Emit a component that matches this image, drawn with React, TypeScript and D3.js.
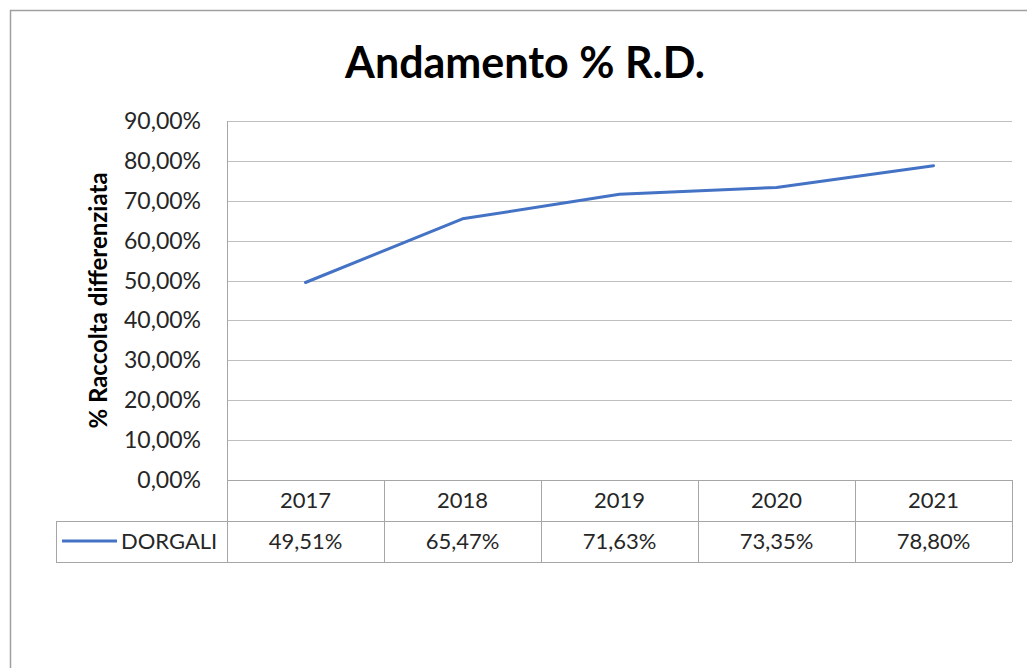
import React from 'react';
import * as d3 from 'd3';

const years = ['2017', '2018', '2019', '2020', '2021'];
const dorgali = [49.51, 65.47, 71.63, 73.35, 78.8];
const yTicks = [0, 10, 20, 30, 40, 50, 60, 70, 80, 90];
const seriesName = 'DORGALI';

const W = 1027;
const H = 668;
const FONT = 'Lato, "Open Sans", sans-serif';

const fmtPct = (v: number) => v.toFixed(2).replace('.', ',') + '%';

export default function App() {
  const left = 227, right = 1012, top = 121, bottom = 480;
  const rowH = 41;
  const legendLeft = 56;

  const x = d3.scaleBand<string>().domain(years).range([left, right]);
  const y = d3.scaleLinear().domain([0, 90]).range([bottom, top]);

  const line = d3.line<number>()
    .x((d, i) => (x(years[i]) as number) + x.bandwidth() / 2)
    .y(d => y(d));

  const grid = '#bfbfbf';
  const border = '#a6a6a6';
  const txt = '#262626';

  return (
    <svg width={W} height={H} style={{position: 'absolute', left: 0, top: 0, background: '#fff'}}>
      <rect x={10.5} y={10.5} width={W + 20} height={H + 20} fill="#fff" stroke="#a0a0a0" strokeWidth={1.5} />

      <text x={525} y={78} textAnchor="middle" fontFamily={FONT} fontWeight="bold" fontSize={43} fill="#000">
        Andamento % R.D.
      </text>

      {/* gridlines */}
      {yTicks.map(t => (
        <line key={t} x1={left} x2={right} y1={Math.round(y(t)) + 0.5} y2={Math.round(y(t)) + 0.5} stroke={grid} strokeWidth={1} />
      ))}
      <line x1={left + 0.5} x2={left + 0.5} y1={top} y2={bottom + rowH * 2} stroke={border} />

      {/* y ticks */}
      {yTicks.map(t => (
        <text key={t} x={201} y={y(t) + 8} textAnchor="end" fontFamily={FONT} fontSize={23} fill={txt}>
          {fmtPct(t)}
        </text>
      ))}

      <text transform={`translate(107,${(top + bottom) / 2}) rotate(-90)`} textAnchor="middle"
        fontFamily={FONT} fontWeight="bold" fontSize={24} fill="#000">
        % Raccolta differenziata
      </text>

      {/* data table */}
      <line x1={left} x2={right} y1={bottom + 0.5} y2={bottom + 0.5} stroke={border} />
      <line x1={legendLeft} x2={right} y1={bottom + rowH + 0.5} y2={bottom + rowH + 0.5} stroke={border} />
      <line x1={legendLeft} x2={right} y1={bottom + rowH * 2 + 0.5} y2={bottom + rowH * 2 + 0.5} stroke={border} />
      <line x1={legendLeft + 0.5} x2={legendLeft + 0.5} y1={bottom + rowH} y2={bottom + rowH * 2} stroke={border} />
      {years.map(yr => (
        <line key={yr} x1={(x(yr) as number) + x.bandwidth() + 0.5} x2={(x(yr) as number) + x.bandwidth() + 0.5}
          y1={bottom} y2={bottom + rowH * 2} stroke={border} />
      ))}
      {years.map(yr => (
        <text key={yr} x={(x(yr) as number) + x.bandwidth() / 2} y={bottom + 28} textAnchor="middle"
          fontFamily={FONT} fontSize={22} fill={txt}>{yr}</text>
      ))}
      {dorgali.map((v, i) => (
        <text key={i} x={(x(years[i]) as number) + x.bandwidth() / 2} y={bottom + rowH + 28} textAnchor="middle"
          fontFamily={FONT} fontSize={22} fill={txt}>{fmtPct(v)}</text>
      ))}
      <line x1={62} x2={117} y1={bottom + rowH + 20} y2={bottom + rowH + 20} stroke="#4472c4" strokeWidth={3} />
      <text x={121} y={bottom + rowH + 28} fontFamily={FONT} fontSize={22} fill={txt}>{seriesName}</text>

      <path d={line(dorgali) || ''} fill="none" stroke="#4472c4" strokeWidth={3} strokeLinejoin="round" strokeLinecap="round" />
    </svg>
  );
}
